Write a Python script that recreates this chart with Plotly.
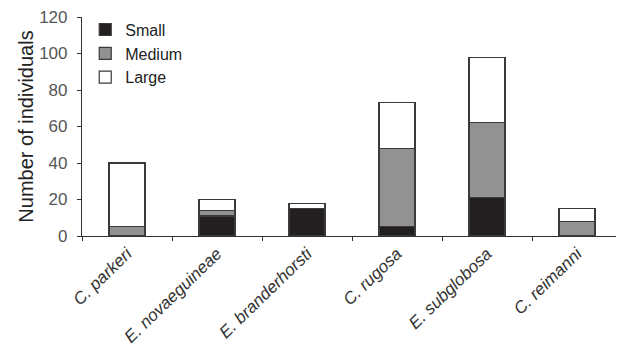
import plotly.graph_objects as go

species = ["C. parkeri", "E. novaeguineae", "E. branderhorsti", "C. rugosa", "E. subglobosa", "C. reimanni"]
small = [0, 11, 15, 5, 21, 0]
medium = [5, 3, 0, 43, 41, 8]
large = [35, 6, 3, 25, 36, 7]
y_ticks = [0, 20, 40, 60, 80, 100, 120]

FONT = "Liberation Sans, Arial, sans-serif"

fig = go.Figure()
for name, vals, col in [("Small", small, "#231f20"), ("Medium", medium, "#929292"), ("Large", large, "#ffffff")]:
    fig.add_trace(go.Bar(x=species, y=vals, name=name,
                         marker=dict(color=col, line=dict(color="#3a3a3a", width=1.2)),
                         width=0.4))

# page body has a default 8px margin; size the figure to fit the 624x353 window
fig.update_layout(
    barmode="stack",
    width=616, height=345,
    margin=dict(l=74, r=2, t=9, b=117, autoexpand=False),
    paper_bgcolor="white", plot_bgcolor="white",
    font=dict(family=FONT, size=17, color="#222"),
    showlegend=True,
    legend=dict(x=0.006, y=1.02, xanchor="left", yanchor="top", bgcolor="rgba(0,0,0,0)",
                traceorder="normal", font=dict(size=16, color="#222"), tracegroupgap=0, itemwidth=30),
    xaxis=dict(showline=True, linecolor="#333", linewidth=1.2, ticks="outside", tickson="boundaries",
               ticklen=4, tickcolor="#333", tickangle=-44, automargin=False,
               tickfont=dict(size=17, color="#333", family=FONT),
               tickvals=species, ticktext=["<i>" + s + "</i>" for s in species]),
    yaxis=dict(range=[0, 120], tickvals=y_ticks, showline=True, linecolor="#333", linewidth=1.2,
               ticks="outside", ticklen=4, tickcolor="#333", showgrid=False, zeroline=False,
               automargin=False, tickfont=dict(size=17, color="#555"), ticklabelstandoff=6,
               ticklabeloverflow="allow",
               title=dict(text="Number of individuals", font=dict(size=20, color="#222"), standoff=0)),
)
fig.write_html("out.html")
